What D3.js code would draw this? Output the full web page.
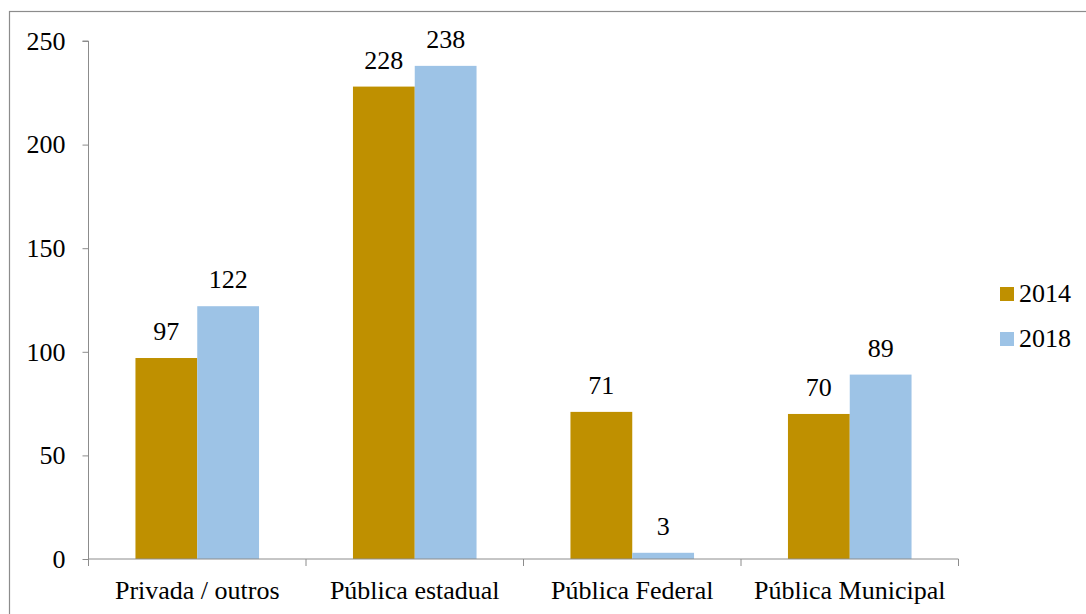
<!DOCTYPE html>
<html>
<head>
<meta charset="utf-8">
<script src="https://cdn.jsdelivr.net/npm/d3@7"></script>
<style>
  html, body { margin: 0; padding: 0; background: #fff; }
  svg { display: block; }
</style>
</head>
<body>
<svg id="chart" width="1086" height="614"></svg>
<script>
// Number of institutions by administrative type
const categories = ["Privada / outros", "Pública estadual", "Pública Federal", "Pública Municipal"];
const seriesNames = ["2014", "2018"];
const values2014 = [97, 228, 71, 70];
const values2018 = [122, 238, 3, 89];
const yTicks = [0, 50, 100, 150, 200, 250];
const colors = ["#BF9000", "#9DC3E6"];

const serif = "'Liberation Serif'";
const svg = d3.select("#chart");
const plot = { left: 88.5, right: 958.5, top: 41, bottom: 559 };
const fontSize = "26px";

// outer frame
svg.append("rect")
  .attr("x", 9.5).attr("y", 11.5)
  .attr("width", 1100).attr("height", 620)
  .attr("fill", "none").attr("stroke", "#8c8c8c").attr("stroke-width", 1.2);

const x0 = d3.scaleBand().domain(categories).range([plot.left, plot.right]).paddingInner(0).paddingOuter(0);
const x1 = d3.scaleBand().domain(seriesNames).range([0, x0.bandwidth()]).paddingInner(0).paddingOuter(0.76);
const y = d3.scaleLinear().domain([0, 250]).range([plot.bottom, plot.top]);

const data = categories.map((c, i) => ({
  cat: c,
  vals: [ { s: "2014", v: values2014[i] }, { s: "2018", v: values2018[i] } ]
}));

// y axis
const yAxis = d3.axisLeft(y).tickValues(yTicks).tickSize(6).tickPadding(17).tickFormat(d3.format("d"));
const gy = svg.append("g").attr("transform", `translate(${plot.left},0)`).call(yAxis);
gy.select(".domain").attr("stroke", "#8c8c8c").attr("d", `M-6,${y(250)}H0V${y(0) + 7}`);
gy.selectAll(".tick line").attr("stroke", "#8c8c8c");
gy.selectAll(".tick text").style("font-family", serif).style("font-size", fontSize).attr("fill", "#000");

// bars
const groups = svg.append("g").selectAll("g").data(data).join("g")
  .attr("transform", d => `translate(${x0(d.cat)},0)`);
groups.selectAll("rect").data(d => d.vals).join("rect")
  .attr("x", d => x1(d.s))
  .attr("width", x1.bandwidth())
  .attr("y", d => y(d.v))
  .attr("height", d => y(0) - y(d.v))
  .attr("fill", (d, i) => colors[i]);

// value labels
groups.selectAll("text").data(d => d.vals).join("text")
  .attr("x", d => x1(d.s) + x1.bandwidth() / 2)
  .attr("y", d => y(d.v) - 18)
  .attr("text-anchor", "middle")
  .style("font-family", serif).style("font-size", fontSize)
  .text(d => d.v);

// x axis
const xAxis = d3.axisBottom(x0).tickSize(0).tickPadding(0);
const gx = svg.append("g").attr("transform", `translate(0,${plot.bottom})`).call(xAxis);
gx.select(".domain").attr("stroke", "#8c8c8c").attr("d", `M${plot.left},0H${plot.right}`);
gx.selectAll(".tick line").remove();
gx.selectAll(".tick text").style("font-family", serif).style("font-size", fontSize)
  .attr("fill", "#000").attr("dy", null).attr("y", 40);
// category boundary ticks
const bounds = categories.map(c => x0(c) + x0.bandwidth());
gx.selectAll(".sep").data(bounds).join("line").attr("class", "sep")
  .attr("x1", d => d).attr("x2", d => d).attr("y1", 0).attr("y2", 7)
  .attr("stroke", "#8c8c8c");

// legend
const legend = svg.append("g").attr("transform", "translate(1000,287)");
const li = legend.selectAll("g").data(seriesNames).join("g")
  .attr("transform", (d, i) => `translate(0,${i * 45})`);
li.append("rect").attr("width", 14).attr("height", 14).attr("fill", (d, i) => colors[i]);
li.append("text").attr("x", 19).attr("y", 15)
  .style("font-family", serif).style("font-size", fontSize).text(d => d);
</script>
</body>
</html>
